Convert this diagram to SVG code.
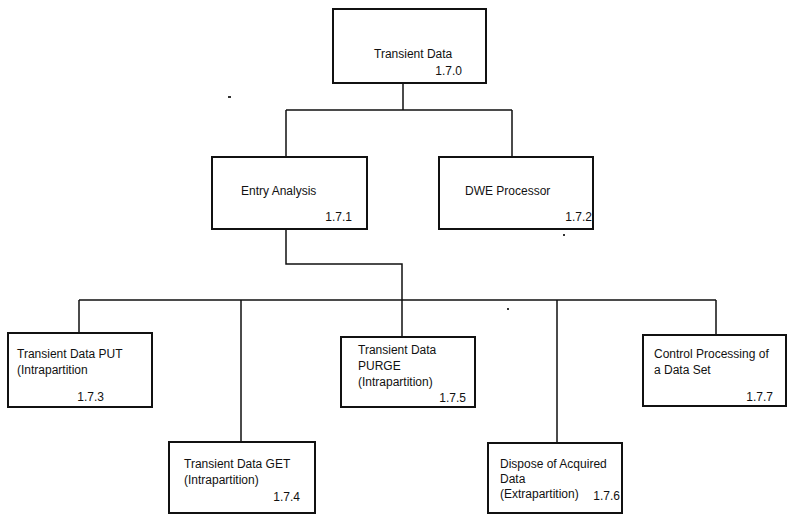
<svg xmlns="http://www.w3.org/2000/svg" width="788" height="515" viewBox="0 0 788 515">
  <style>
    .box { fill: #ffffff; stroke: #111111; stroke-width: 2; }
    .wire { fill: none; stroke: #111111; stroke-width: 1.5; }
    .lbl { font-family: "Liberation Sans", Arial, sans-serif; font-size: 12px; fill: #111111; }
    .num { font-family: "Liberation Sans", Arial, sans-serif; font-size: 12px; fill: #111111; text-anchor: end; }
    .speck { fill: #333333; }
  </style>
  <rect width="788" height="515" fill="#ffffff"/>

  <!-- connectors -->
  <g id="connectors">
    <path class="wire" d="M403 83 V110 M286 110 H512 M286 110 V157 M512 110 V157"/>
    <path class="wire" d="M286 229 V264 H402 V337"/>
    <path class="wire" d="M79 300 H716 M79 300 V333 M241 300 V442 M557 300 V443 M716 300 V335"/>
  </g>

  <!-- 1.7.0 -->
  <g id="transient-data">
    <rect class="box" x="333" y="9" width="153" height="74"/>
    <text class="lbl" x="374" y="58">Transient Data</text>
    <text class="num" x="462" y="75">1.7.0</text>
  </g>

  <!-- 1.7.1 -->
  <g id="entry-analysis">
    <rect class="box" x="212" y="157" width="155" height="72"/>
    <text class="lbl" x="241" y="195">Entry Analysis</text>
    <text class="num" x="352" y="221">1.7.1</text>
  </g>

  <!-- 1.7.2 -->
  <g id="dwe-processor">
    <rect class="box" x="439" y="157" width="154" height="72"/>
    <text class="lbl" x="465" y="195">DWE Processor</text>
    <text class="num" x="592" y="221">1.7.2</text>
  </g>

  <!-- 1.7.3 -->
  <g id="td-put">
    <rect class="box" x="8" y="333" width="144" height="74"/>
    <text class="lbl" x="17" y="358">Transient Data PUT</text>
    <text class="lbl" x="17" y="374">(Intrapartition</text>
    <text class="num" x="104" y="401">1.7.3</text>
  </g>

  <!-- 1.7.4 -->
  <g id="td-get">
    <rect class="box" x="169" y="442" width="146" height="71"/>
    <text class="lbl" x="184" y="468">Transient Data GET</text>
    <text class="lbl" x="184" y="484">(Intrapartition)</text>
    <text class="num" x="300" y="501">1.7.4</text>
  </g>

  <!-- 1.7.5 -->
  <g id="td-purge">
    <rect class="box" x="341" y="337" width="134" height="70"/>
    <text class="lbl" x="358" y="354">Transient Data</text>
    <text class="lbl" x="358" y="370">PURGE</text>
    <text class="lbl" x="358" y="386">(Intrapartition)</text>
    <text class="num" x="466" y="402">1.7.5</text>
  </g>

  <!-- 1.7.6 -->
  <g id="dispose-acquired">
    <rect class="box" x="488" y="443" width="134" height="70"/>
    <text class="lbl" x="500" y="468">Dispose of Acquired</text>
    <text class="lbl" x="500" y="483">Data</text>
    <text class="lbl" x="500" y="498">(Extrapartition)</text>
    <text class="num" x="620" y="500">1.7.6</text>
  </g>

  <!-- 1.7.7 -->
  <g id="control-processing">
    <rect class="box" x="643" y="335" width="143" height="71"/>
    <text class="lbl" x="654" y="358">Control Processing of</text>
    <text class="lbl" x="654" y="374">a Data Set</text>
    <text class="num" x="773" y="401">1.7.7</text>
  </g>

  <!-- small print specks -->
  <g id="specks">
    <rect class="speck" x="228" y="96" width="3" height="2"/>
    <rect class="speck" x="563" y="234" width="2" height="2"/>
    <rect class="speck" x="507" y="308" width="2" height="2"/>
  </g>
</svg>
